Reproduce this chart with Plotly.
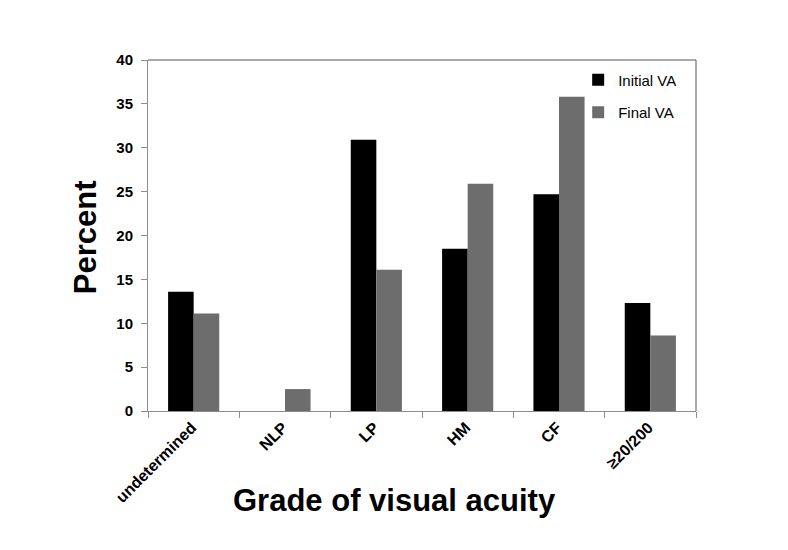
import plotly.graph_objects as go

# data (percent of eyes, n=81)
categories = ['undetermined', 'NLP', 'LP', 'HM', 'CF', '\u226520/200']
initial_va = [13.6, 0.0, 30.9, 18.5, 24.7, 12.3]
final_va = [11.1, 2.5, 16.1, 25.9, 35.8, 8.6]
y_ticks = [0, 5, 10, 15, 20, 25, 30, 35, 40]

font_family = 'Liberation Sans, Arial, sans-serif'

fig = go.Figure()
fig.add_trace(go.Bar(x=categories, y=initial_va, name='Initial VA',
                     marker=dict(color='#000000', line=dict(width=0)),
                     legendgroup='a'))
fig.add_trace(go.Bar(x=categories, y=final_va, name='Final VA',
                     marker=dict(color='#6d6d6d', line=dict(width=0)),
                     legendgroup='b'))

fig.update_layout(
    width=788, height=550,
    margin=dict(l=140, r=100, t=52, b=147),
    barmode='group', bargap=0.44, bargroupgap=0,
    plot_bgcolor='white', paper_bgcolor='white',
    font=dict(family=font_family, color='black'),
    showlegend=True,
    legend=dict(x=0.785, y=0.99, xanchor='left', yanchor='top',
                bgcolor='rgba(0,0,0,0)', tracegroupgap=10,
                traceorder='grouped',
                font=dict(size=15, family=font_family, color='black')),
)

fig.update_xaxes(
    showline=True, linecolor='#8c8c8c', linewidth=1,
    ticks='outside', tickson='boundaries', ticklen=6, tickcolor='#8c8c8c',
    tickangle=-45, showgrid=False,
    tickfont=dict(size=16, family=font_family, color='black', weight='bold'),
    ticklabelshift=-2,
)
fig.update_yaxes(
    range=[0, 40], tickvals=y_ticks, showline=True, linecolor='#8c8c8c',
    linewidth=1, ticks='outside', ticklen=6, tickcolor='#8c8c8c',
    showgrid=False, zeroline=False, ticklabelstandoff=5,
    tickfont=dict(size=15, family=font_family, color='black', weight='bold'),
)

# top and right frame lines
fig.add_shape(type='line', xref='paper', yref='paper', x0=0, x1=1, y0=1, y1=1,
              line=dict(color='#555555', width=1))
fig.add_shape(type='line', xref='paper', yref='paper', x0=1, x1=1, y0=0, y1=1,
              line=dict(color='#555555', width=1))

# axis titles
fig.add_annotation(text='<b>Grade of visual acuity</b>', xref='paper', yref='paper',
                   x=0.449, y=-0.254, xanchor='center', yanchor='middle',
                   showarrow=False,
                   font=dict(size=31, family=font_family, color='black'))
fig.add_annotation(text='<b>Percent</b>', xref='paper', yref='paper',
                   x=-0.115, y=0.495, xanchor='center', yanchor='middle',
                   showarrow=False, textangle=-90,
                   font=dict(size=31, family=font_family, color='black'))

fig.write_html('out.html')
